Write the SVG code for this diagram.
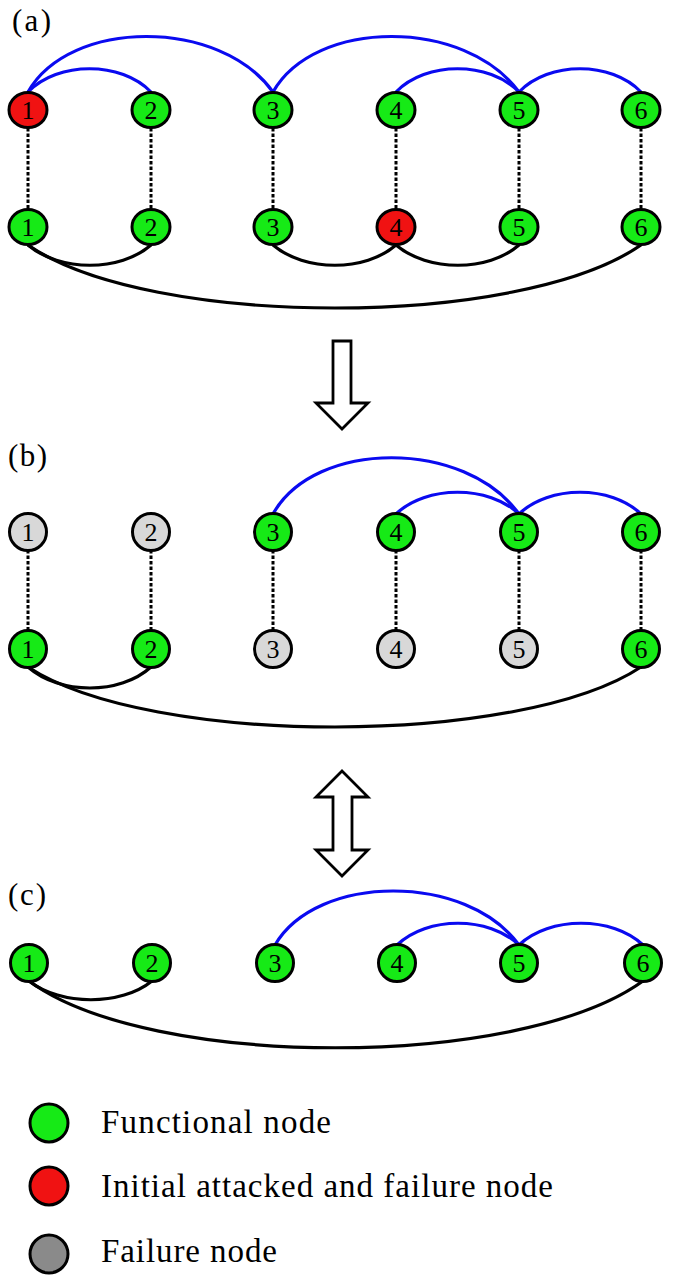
<svg xmlns="http://www.w3.org/2000/svg" width="675" height="1280" viewBox="0 0 675 1280">
<style>
.n{stroke:#000;stroke-width:3}
.g{fill:#16ea16}
.r{fill:#f01212}
.lg{fill:#d8d8d8}
.dg{fill:#8a8a8a}
.t{font-family:"Liberation Serif","Times New Roman",serif;font-size:26px;text-anchor:middle;fill:#000}
.lab{font-family:"Liberation Serif","Times New Roman",serif;font-size:31px;fill:#000}
.leg{font-family:"Liberation Serif","Times New Roman",serif;font-size:33px;fill:#000}
.b{fill:none;stroke:#0a0af0;stroke-width:3.2}
.k{fill:none;stroke:#000;stroke-width:3.2}
.d{fill:none;stroke:#000;stroke-width:3;stroke-dasharray:3.5,2}
.ar{fill:#fff;stroke:#000;stroke-width:2.8;stroke-linejoin:miter}
</style>
<text class="lab" x="12" y="31" textLength="39">(a)</text>
<text class="lab" x="8" y="466" textLength="39">(b)</text>
<text class="lab" x="8" y="905" textLength="38">(c)</text>
<g id="connectors">
<path class="d" d="M28,128V209M151,128V209M273,128V209M396,128V209M519,128V209M641,128V209"/>
<path class="b" d="M28,92C70,18 220,18 273,92"/>
<path class="b" d="M28,92C58,61 121,61 151,92"/>
<path class="b" d="M273,92C315,18 465,18 519,92"/>
<path class="b" d="M396,92C426,61 489,61 519,92"/>
<path class="b" d="M519,92C549,61 611,61 641,92"/>
<path class="k" d="M28,245C60,272 120,272 151,245"/>
<path class="k" d="M273,245C305,272 365,272 396,245"/>
<path class="k" d="M396,245C428,272 488,272 519,245"/>
<path class="k" d="M28,245C150,329 520,329 641,245"/>
<path class="d" d="M28,550V631M151,550V631M273,550V631M396,550V631M519,550V631M641,550V631"/>
<path class="b" d="M273,514C315,439 465,439 519,514"/>
<path class="b" d="M396,514C426,485 489,485 519,514"/>
<path class="b" d="M519,514C549,485 611,485 641,514"/>
<path class="k" d="M28,667C60,695 120,695 151,667"/>
<path class="k" d="M28,667C150,747 520,747 641,667"/>
<path class="b" d="M275,945C317,873 467,873 519,945"/>
<path class="b" d="M397,945C427,916 489,916 519,945"/>
<path class="b" d="M519,945C549,916 613,916 643,945"/>
<path class="k" d="M29,981C61,1006 121,1006 152,981"/>
<path class="k" d="M29,981C150,1070 520,1070 643,981"/>
</g>
<g id="arrow-down"><path class="ar" d="M333,341H351V403H368L342,429L316,403H333Z"/></g>
<g id="arrow-double"><path class="ar" d="M342,771L368,797H352V850H368L342,876L316,850H333V797H316Z"/></g>
<g id="a-top-1"><ellipse class="n r" cx="28" cy="110" rx="19" ry="17.5"/><text class="t" x="28" y="119">1</text></g>
<g id="a-top-2"><ellipse class="n g" cx="151" cy="110" rx="19" ry="17.5"/><text class="t" x="151" y="119">2</text></g>
<g id="a-top-3"><ellipse class="n g" cx="273" cy="110" rx="19" ry="17.5"/><text class="t" x="273" y="119">3</text></g>
<g id="a-top-4"><ellipse class="n g" cx="396" cy="110" rx="19" ry="17.5"/><text class="t" x="396" y="119">4</text></g>
<g id="a-top-5"><ellipse class="n g" cx="519" cy="110" rx="19" ry="17.5"/><text class="t" x="519" y="119">5</text></g>
<g id="a-top-6"><ellipse class="n g" cx="641" cy="110" rx="19" ry="17.5"/><text class="t" x="641" y="119">6</text></g>
<g id="a-bot-1"><ellipse class="n g" cx="28" cy="227" rx="19" ry="17.5"/><text class="t" x="28" y="236">1</text></g>
<g id="a-bot-2"><ellipse class="n g" cx="151" cy="227" rx="19" ry="17.5"/><text class="t" x="151" y="236">2</text></g>
<g id="a-bot-3"><ellipse class="n g" cx="273" cy="227" rx="19" ry="17.5"/><text class="t" x="273" y="236">3</text></g>
<g id="a-bot-4"><ellipse class="n r" cx="396" cy="227" rx="19" ry="17.5"/><text class="t" x="396" y="236">4</text></g>
<g id="a-bot-5"><ellipse class="n g" cx="519" cy="227" rx="19" ry="17.5"/><text class="t" x="519" y="236">5</text></g>
<g id="a-bot-6"><ellipse class="n g" cx="641" cy="227" rx="19" ry="17.5"/><text class="t" x="641" y="236">6</text></g>
<g id="b-top-1"><circle class="n lg" cx="28" cy="532" r="18.5"/><text class="t" x="28" y="541">1</text></g>
<g id="b-top-2"><circle class="n lg" cx="151" cy="532" r="18.5"/><text class="t" x="151" y="541">2</text></g>
<g id="b-top-3"><circle class="n g" cx="273" cy="532" r="18.5"/><text class="t" x="273" y="541">3</text></g>
<g id="b-top-4"><circle class="n g" cx="396" cy="532" r="18.5"/><text class="t" x="396" y="541">4</text></g>
<g id="b-top-5"><circle class="n g" cx="519" cy="532" r="18.5"/><text class="t" x="519" y="541">5</text></g>
<g id="b-top-6"><circle class="n g" cx="641" cy="532" r="18.5"/><text class="t" x="641" y="541">6</text></g>
<g id="b-bot-1"><circle class="n g" cx="28" cy="649" r="18.5"/><text class="t" x="28" y="658">1</text></g>
<g id="b-bot-2"><circle class="n g" cx="151" cy="649" r="18.5"/><text class="t" x="151" y="658">2</text></g>
<g id="b-bot-3"><circle class="n lg" cx="273" cy="649" r="18.5"/><text class="t" x="273" y="658">3</text></g>
<g id="b-bot-4"><circle class="n lg" cx="396" cy="649" r="18.5"/><text class="t" x="396" y="658">4</text></g>
<g id="b-bot-5"><circle class="n lg" cx="519" cy="649" r="18.5"/><text class="t" x="519" y="658">5</text></g>
<g id="b-bot-6"><circle class="n g" cx="641" cy="649" r="18.5"/><text class="t" x="641" y="658">6</text></g>
<g id="c-1"><circle class="n g" cx="29" cy="963" r="18.5"/><text class="t" x="29" y="972">1</text></g>
<g id="c-2"><circle class="n g" cx="152" cy="963" r="18.5"/><text class="t" x="152" y="972">2</text></g>
<g id="c-3"><circle class="n g" cx="275" cy="963" r="18.5"/><text class="t" x="275" y="972">3</text></g>
<g id="c-4"><circle class="n g" cx="397" cy="963" r="18.5"/><text class="t" x="397" y="972">4</text></g>
<g id="c-5"><circle class="n g" cx="519" cy="963" r="18.5"/><text class="t" x="519" y="972">5</text></g>
<g id="c-6"><circle class="n g" cx="643" cy="963" r="18.5"/><text class="t" x="643" y="972">6</text></g>
<g id="legend-functional"><circle class="n g" cx="49" cy="1123" r="19"/><text class="leg" x="101" y="1133" textLength="230">Functional node</text></g>
<g id="legend-attacked"><circle class="n r" cx="49" cy="1186" r="19"/><text class="leg" x="101" y="1197" textLength="452">Initial attacked and failure node</text></g>
<g id="legend-failure"><circle class="n dg" cx="49" cy="1254" r="19"/><text class="leg" x="101" y="1262" textLength="176">Failure node</text></g>
</svg>
